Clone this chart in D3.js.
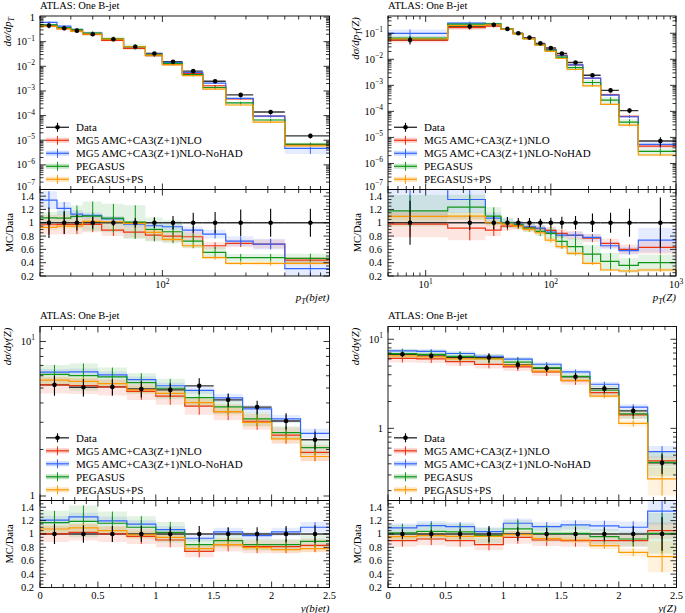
<!DOCTYPE html>
<html>
<head>
<meta charset="utf-8">
<script src="https://cdn.jsdelivr.net/npm/d3@7"></script>
<style>
body { margin: 0; background: #fff; }
svg text { font-family: "Liberation Serif", "DejaVu Serif", serif; fill: #000; }
</style>
</head>
<body>
<script>
// series names and colours (legend order)
var mcNames = ["MG5 AMC+CA3(Z+1)NLO", "MG5 AMC+CA3(Z+1)NLO-NoHAD", "PEGASUS", "PEGASUS+PS"];
var mcColors = ["#ee3311", "#3366ff", "#109618", "#ff9900"];

// pT(bjet)
var ptbEdges = [20, 25, 30, 35, 45, 60, 80, 100, 130, 170, 230, 330, 500, 900];
var ptbData = [0.45, 0.35, 0.28, 0.20, 0.125, 0.0625, 0.033, 0.0153, 0.00635, 0.00248, 0.00069, 1.39e-4, 1.5e-5];
var ptbDataErr = [0.23, 0.17, 0.12, 0.09, 0.05, 0.07, 0.08, 0.1, 0.15, 0.16, 0.2, 0.21, 0.21];
var ptbMg = [0.97, 0.975, 0.975, 0.975, 0.89, 0.86, 0.815, 0.80, 0.79, 0.655, 0.69, 0.68, 0.44];
var ptbNoHad = [1.34, 1.215, 1.13, 1.11, 1.06, 0.98, 0.955, 0.94, 0.89, 0.83, 0.725, 0.68, 0.31];
var ptbPeg = [1.075, 1.07, 1.095, 1.1, 1.07, 1.01, 0.9, 0.865, 0.725, 0.555, 0.475, 0.475, 0.465];
var ptbPegPs = [0.93, 0.95, 0.95, 1.02, 1.015, 0.99, 0.855, 0.75, 0.655, 0.475, 0.39, 0.39, 0.39];
var ptbMgBand = [0.15, 0.15, 0.15, 0.12, 0.1, 0.1, 0.1, 0.1, 0.1, 0.08, 0.08, 0.1, 0.1];
var ptbNoHadBand = [0.1, 0.08, 0.05, 0.04, 0.04, 0.04, 0.04, 0.05, 0.06, 0.08, 0.1, 0.12, 0.4];
var ptbPegBand = [0.08, 0.1, 0.15, 0.2, 0.2, 0.25, 0.2, 0.2, 0.15, 0.15, 0.12, 0.12, 0.15];
var ptbPegPsBand = [0.04, 0.04, 0.04, 0.04, 0.04, 0.04, 0.04, 0.05, 0.05, 0.06, 0.06, 0.08, 0.08];

// pT(Z)
var ptzEdges = [0, 15, 30, 40, 50, 60, 75, 90, 110, 135, 180, 250, 350, 500, 1000];
var ptzData = [0.055, 0.18, 0.21, 0.147, 0.1, 0.068, 0.041, 0.027, 0.0168, 0.0075, 0.00243, 6.4e-4, 1.07e-4, 7.3e-6];
var ptzDataErr = [0.33, 0.11, 0.1, 0.085, 0.07, 0.07, 0.06, 0.075, 0.09, 0.1, 0.14, 0.15, 0.21, 0.38];
var ptzMg = [0.98, 0.92, 0.89, 0.95, 0.96, 0.93, 0.91, 0.885, 0.84, 0.81, 0.77, 0.69, 0.6, 0.63];
var ptzNoHad = [1.8, 1.35, 1.07, 1.0, 0.98, 0.94, 0.92, 0.86, 0.815, 0.815, 0.78, 0.655, 0.58, 0.74];
var ptzPeg = [1.18, 1.235, 1.1, 1.0, 0.97, 0.92, 0.87, 0.84, 0.72, 0.64, 0.53, 0.42, 0.36, 0.40];
var ptzPegPs = [1.095, 1.1, 1.0, 0.98, 0.95, 0.9, 0.85, 0.74, 0.64, 0.54, 0.39, 0.29, 0.275, 0.29];
var ptzMgBand = [0.2, 0.2, 0.1, 0.07, 0.06, 0.06, 0.06, 0.06, 0.07, 0.08, 0.08, 0.1, 0.12, 0.15];
var ptzNoHadBand = [0.4, 0.15, 0.08, 0.06, 0.05, 0.05, 0.05, 0.05, 0.05, 0.06, 0.06, 0.08, 0.1, 0.25];
var ptzPegBand = [0.2, 0.15, 0.12, 0.08, 0.06, 0.06, 0.08, 0.1, 0.15, 0.2, 0.25, 0.3, 0.3, 0.3];
var ptzPegPsBand = [0.05, 0.05, 0.05, 0.04, 0.04, 0.04, 0.04, 0.05, 0.05, 0.05, 0.06, 0.06, 0.08, 0.1];

// y(bjet)
var ybEdges = [0, 0.25, 0.5, 0.75, 1, 1.25, 1.5, 1.75, 2, 2.25, 2.5];
var ybData = [5.24, 5.06, 5.08, 4.93, 4.86, 5.16, 4.19, 3.76, 3.06, 2.31];
var ybDataErr = [0.15, 0.13, 0.12, 0.12, 0.1, 0.12, 0.1, 0.1, 0.12, 0.13];
var ybMg = [1.0, 1.025, 1.0, 0.965, 0.91, 0.74, 0.84, 0.81, 0.81, 0.83];
var ybNoHad = [1.207, 1.256, 1.197, 1.148, 1.064, 0.936, 1.03, 0.975, 1.03, 1.1];
var ybPeg = [1.17, 1.187, 1.16, 1.1, 1.025, 0.84, 0.9, 0.84, 0.84, 0.89];
var ybPegPs = [1.074, 1.09, 1.05, 0.985, 0.95, 0.78, 0.84, 0.795, 0.765, 0.78];
var ybMgBand = [0.12, 0.12, 0.12, 0.12, 0.12, 0.12, 0.12, 0.12, 0.12, 0.12];
var ybNoHadBand = [0.05, 0.05, 0.05, 0.05, 0.05, 0.05, 0.06, 0.06, 0.06, 0.07];
var ybPegBand = [0.15, 0.2, 0.15, 0.15, 0.15, 0.12, 0.1, 0.1, 0.1, 0.1];
var ybPegPsBand = [0.06, 0.06, 0.06, 0.06, 0.06, 0.06, 0.06, 0.06, 0.06, 0.07];

// y(Z)
var yzEdges = [0, 0.25, 0.5, 0.75, 1, 1.25, 1.5, 1.75, 2, 2.25, 2.5];
var yzData = [6.78, 6.5, 6.23, 6.23, 5.15, 4.72, 3.8, 2.79, 1.57, 0.41];
var yzDataErr = [0.07, 0.06, 0.07, 0.12, 0.1, 0.09, 0.1, 0.1, 0.12, 0.25];
var yzMg = [0.9, 0.925, 0.9, 0.84, 0.95, 0.91, 0.9, 0.9, 0.9, 1.05];
var yzNoHad = [1.09, 1.125, 1.11, 1.035, 1.16, 1.11, 1.135, 1.12, 1.1, 1.34];
var yzPeg = [1.015, 1.04, 1.03, 0.975, 1.075, 1.01, 1.01, 0.96, 0.925, 1.01];
var yzPegPs = [0.96, 0.975, 0.965, 0.965, 0.99, 0.93, 0.91, 0.825, 0.725, 0.66];
var yzMgBand = [0.1, 0.1, 0.1, 0.1, 0.1, 0.1, 0.1, 0.1, 0.1, 0.12];
var yzNoHadBand = [0.06, 0.06, 0.06, 0.06, 0.06, 0.06, 0.06, 0.07, 0.08, 0.15];
var yzPegBand = [0.12, 0.12, 0.12, 0.12, 0.12, 0.12, 0.12, 0.12, 0.12, 0.3];
var yzPegPsBand = [0.05, 0.05, 0.05, 0.05, 0.05, 0.05, 0.05, 0.06, 0.08, 0.35];

var ratioDomain = [0.2, 1.5];
var ratioTickLabels = ["0.2", "0.4", "0.6", "0.8", "1", "1.2", "1.4"];

var panels = [
	{left: 40, right: 329.5, top: 16, mid: 189.5, bottom: 276, xType: "log", xDomain: [20, 900], yDomain: [1e-7, 1.1],
	 edges: ptbEdges, data: ptbData, dataErr: ptbDataErr,
	 ratios: [ptbMg, ptbNoHad, ptbPeg, ptbPegPs], bands: [ptbMgBand, ptbNoHadBand, ptbPegBand, ptbPegPsBand],
	 yLabel: [["d\u03c3/dp"], ["T", "sub"]], xLabel: [["p"], ["T", "sub"], ["(bjet)"]]},
	{left: 388, right: 676, top: 16, mid: 189.5, bottom: 276, xType: "log", xDomain: [5, 1000], yDomain: [1e-7, 0.46],
	 edges: ptzEdges, data: ptzData, dataErr: ptzDataErr,
	 ratios: [ptzMg, ptzNoHad, ptzPeg, ptzPegPs], bands: [ptzMgBand, ptzNoHadBand, ptzPegBand, ptzPegPsBand],
	 yLabel: [["d\u03c3/dp"], ["T", "sub"], ["(Z)"]], xLabel: [["p"], ["T", "sub"], ["(Z)"]]},
	{left: 40, right: 329.5, top: 326.5, mid: 500.5, bottom: 587.5, xType: "lin", xDomain: [0, 2.5], yDomain: [0.935, 12.5],
	 edges: ybEdges, data: ybData, dataErr: ybDataErr,
	 ratios: [ybMg, ybNoHad, ybPeg, ybPegPs], bands: [ybMgBand, ybNoHadBand, ybPegBand, ybPegPsBand],
	 yLabel: [["d\u03c3/dy(Z)"]], xLabel: [["y(bjet)"]]},
	{left: 388, right: 676.5, top: 326.5, mid: 500.5, bottom: 587.5, xType: "lin", xDomain: [0, 2.5], yDomain: [0.155, 13.9],
	 edges: yzEdges, data: yzData, dataErr: yzDataErr,
	 ratios: [yzMg, yzNoHad, yzPeg, yzPegPs], bands: [yzMgBand, yzNoHadBand, yzPegBand, yzPegPsBand],
	 yLabel: [["d\u03c3/dy(Z)"]], xLabel: [["y(Z)"]]}
];

var svg = d3.select("body").append("svg")
	.attr("width", 685)
	.attr("height", 613);

function logTicks(dom) {
	var out = [];
	var k0 = Math.floor(Math.log10(dom[0])), k1 = Math.ceil(Math.log10(dom[1]));
	for (var k = k0; k <= k1; k++) {
		for (var m = 1; m <= 9; m++) {
			var v = m * Math.pow(10, k);
			if (v >= dom[0] * 0.999 && v <= dom[1] * 1.001) out.push({v: v, major: m === 1, e: k});
		}
	}
	return out;
}

function linTicks(lo, hi, step, every) {
	var out = [];
	var n = Math.round((hi - lo) / step);
	for (var i = 0; i <= n; i++) out.push({v: lo + i * step, major: i % every === 0, i: i});
	return out;
}

// math-ish label with subscripts
function richText(t, parts, size) {
	parts.forEach(function(part) {
		var sp = t.append("tspan").text(part[0]);
		if (part[1] === "sub") sp.attr("dy", 3).attr("font-size", size * 0.72);
		else if (t.node().childNodes.length > 1) sp.attr("dy", -3);
	});
}

function powLabel(t, e) {
	if (e === 0) { t.text("1"); return; }
	t.text("10");
	t.append("tspan").attr("dy", -4.5).attr("font-size", 7.5).text(e < 0 ? "\u2212" + (-e) : e);
}

panels.forEach(function(p, pi) {
	var g = svg.append("g");
	var x = (p.xType === "log" ? d3.scaleLog() : d3.scaleLinear()).domain(p.xDomain).range([p.left, p.right]);
	var y = d3.scaleLog().domain(p.yDomain).range([p.mid, p.top]);
	var yr = d3.scaleLinear().domain(ratioDomain).range([p.bottom, p.mid]);
	var xs = function(v) { return x(p.xType === "log" ? Math.max(v, p.xDomain[0] / 2) : v); };

	var bins = p.data.map(function(d, i) {
		return {lo: p.edges[i], hi: p.edges[i + 1], c: (p.edges[i] + p.edges[i + 1]) / 2, d: d, e: p.dataErr[i]};
	});

	var defs = g.append("defs");
	defs.append("clipPath").attr("id", "cm" + pi).append("rect")
		.attr("x", p.left).attr("y", p.top).attr("width", p.right - p.left).attr("height", p.mid - p.top);
	defs.append("clipPath").attr("id", "cr" + pi).append("rect")
		.attr("x", p.left).attr("y", p.mid).attr("width", p.right - p.left).attr("height", p.bottom - p.mid);

	var mainG = g.append("g").attr("clip-path", "url(#cm" + pi + ")");
	var ratG = g.append("g").attr("clip-path", "url(#cr" + pi + ")");

	// the two sub plots: main (MC = data * MC/Data) and ratio
	var layers = [
		{g: mainG, sy: y, val: function(s, i) { return bins[i].d * p.ratios[s][i]; }, ref: function(i) { return bins[i].d; }},
		{g: ratG, sy: yr, val: function(s, i) { return p.ratios[s][i]; }, ref: function() { return 1; }}
	];

	layers.forEach(function(L) {
		// bands
		p.ratios.forEach(function(r, s) {
			var pts = [];
			bins.forEach(function(b, i) {
				var v = L.val(s, i), e = p.bands[s][i];
				pts.push([b.lo, v * (1 - e), v * (1 + e)]);
				pts.push([b.hi, v * (1 - e), v * (1 + e)]);
			});
			L.g.append("path")
				.attr("d", d3.area().x(function(d) { return xs(d[0]); })
					.y0(function(d) { return L.sy(d[1]); }).y1(function(d) { return L.sy(d[2]); })(pts))
				.attr("fill", mcColors[s])
				.attr("fill-opacity", 0.12);
		});
		// data horizontal bars
		bins.forEach(function(b, i) {
			L.g.append("line")
				.attr("x1", xs(b.lo)).attr("x2", xs(b.hi))
				.attr("y1", L.sy(L.ref(i))).attr("y2", L.sy(L.ref(i)))
				.attr("stroke", "#333").attr("stroke-width", 1.4);
		});
		// MC step lines and error bars
		p.ratios.forEach(function(r, s) {
			var pts = [];
			bins.forEach(function(b, i) {
				pts.push([b.lo, L.val(s, i)]);
				pts.push([b.hi, L.val(s, i)]);
			});
			L.g.append("path")
				.attr("d", d3.line().x(function(d) { return xs(d[0]); }).y(function(d) { return L.sy(d[1]); })(pts))
				.attr("fill", "none")
				.attr("stroke", mcColors[s])
				.attr("stroke-width", 1.2);
			L.g.selectAll(null)
				.data(bins)
				.enter()
				.append("line")
				.attr("x1", function(b) { return xs(b.c); })
				.attr("x2", function(b) { return xs(b.c); })
				.attr("y1", function(b, i) { return L.sy(L.val(s, i) * (1 - p.bands[s][i])); })
				.attr("y2", function(b, i) { return L.sy(L.val(s, i) * (1 + p.bands[s][i])); })
				.attr("stroke", mcColors[s])
				.attr("stroke-width", 1);
		});
		// data error bars and points
		L.g.selectAll(null)
			.data(bins)
			.enter()
			.append("line")
			.attr("x1", function(b) { return xs(b.c); })
			.attr("x2", function(b) { return xs(b.c); })
			.attr("y1", function(b, i) { return L.sy(L.ref(i) * (1 - b.e)); })
			.attr("y2", function(b, i) { return L.sy(L.ref(i) * (1 + b.e)); })
			.attr("stroke", "#000")
			.attr("stroke-width", 1.1);
		L.g.selectAll(null)
			.data(bins)
			.enter()
			.append("circle")
			.attr("cx", function(b) { return xs(b.c); })
			.attr("cy", function(b, i) { return L.sy(L.ref(i)); })
			.attr("r", 2.3)
			.attr("fill", "#000");
	});

	// ticks (inside, all four sides)
	var tk = g.append("g").attr("stroke", "#000").attr("stroke-width", 0.8);
	var xTicks = p.xType === "log" ? logTicks(p.xDomain) : linTicks(0, 2.5, 0.1, 5);
	[[p.top, p.mid], [p.mid, p.bottom]].forEach(function(box) {
		xTicks.forEach(function(t) {
			var px = x(t.v), len = t.major ? 6 : 3.5;
			tk.append("line").attr("x1", px).attr("x2", px).attr("y1", box[1]).attr("y2", box[1] - len);
			tk.append("line").attr("x1", px).attr("x2", px).attr("y1", box[0]).attr("y2", box[0] + len);
		});
	});
	var yTicks = logTicks(p.yDomain);
	yTicks.forEach(function(t) {
		var py = y(t.v), len = t.major ? 6 : 3.5;
		tk.append("line").attr("x1", p.left).attr("x2", p.left + len).attr("y1", py).attr("y2", py);
		tk.append("line").attr("x1", p.right).attr("x2", p.right - len).attr("y1", py).attr("y2", py);
	});
	linTicks(0.2, 1.5, 0.05, 4).forEach(function(t) {
		var py = yr(t.v), len = t.major ? 6 : 3.5;
		if (t.v > 1.49) return;
		tk.append("line").attr("x1", p.left).attr("x2", p.left + len).attr("y1", py).attr("y2", py);
		tk.append("line").attr("x1", p.right).attr("x2", p.right - len).attr("y1", py).attr("y2", py);
	});

	// frames
	g.append("rect").attr("x", p.left).attr("y", p.top).attr("width", p.right - p.left).attr("height", p.mid - p.top)
		.attr("fill", "none").attr("stroke", "#000").attr("stroke-width", 0.9);
	g.append("rect").attr("x", p.left).attr("y", p.mid).attr("width", p.right - p.left).attr("height", p.bottom - p.mid)
		.attr("fill", "none").attr("stroke", "#000").attr("stroke-width", 0.9);

	// tick labels
	yTicks.filter(function(t) { return t.major; }).forEach(function(t) {
		var py = y(t.v);
		// lowest label sits on the divider: lift it clear of the ratio labels
		var shift = (p.mid - py < 3) ? 0 : 3.5;
		var lab = g.append("text").attr("x", p.left - 5).attr("y", py + shift)
			.attr("text-anchor", "end").attr("font-size", 10.5);
		powLabel(lab, t.e);
	});
	linTicks(0.2, 1.4, 0.2, 1).forEach(function(t, i) {
		g.append("text").attr("x", p.left - 6).attr("y", yr(t.v) + 3.5)
			.attr("text-anchor", "end").attr("font-size", 10.5)
			.text(ratioTickLabels[i]);
	});
	if (p.xType === "log") {
		xTicks.filter(function(t) { return t.major; }).forEach(function(t) {
			var lab = g.append("text").attr("x", x(t.v)).attr("y", p.bottom + 12)
				.attr("text-anchor", "middle").attr("font-size", 10.5);
			powLabel(lab, t.e);
		});
	} else {
		linTicks(0, 2.5, 0.5, 1).forEach(function(t) {
			g.append("text").attr("x", x(t.v)).attr("y", p.bottom + 11.5)
				.attr("text-anchor", "middle").attr("font-size", 10.5)
				.text(d3.format("~g")(t.v));
		});
	}

	// titles
	g.append("text").attr("x", p.left).attr("y", p.top - 7.5).attr("font-size", 10.5).text("ATLAS: One B-jet");
	var yl = g.append("text")
		.attr("transform", "translate(" + (p.left - 29) + "," + (p.top + 1) + ") rotate(-90)")
		.attr("text-anchor", "end").attr("font-size", 11).attr("font-style", "italic");
	richText(yl, p.yLabel, 11);
	g.append("text")
		.attr("transform", "translate(" + (p.left - 27.5) + "," + ((p.mid + p.bottom) / 2) + ") rotate(-90)")
		.attr("text-anchor", "middle").attr("font-size", 10.5)
		.text("MC/Data");
	var xl = g.append("text").attr("x", p.right).attr("y", p.bottom + 24.5)
		.attr("text-anchor", "end").attr("font-size", 11).attr("font-style", "italic");
	richText(xl, p.xLabel, 11);

	// legend
	var leg = g.append("g");
	var ly = p.top + 111.3, lx0 = p.left + 6, lx1 = p.left + 29;
	leg.append("line").attr("x1", lx0).attr("x2", lx1).attr("y1", ly).attr("y2", ly)
		.attr("stroke", "#333").attr("stroke-width", 1.4);
	leg.append("line").attr("x1", (lx0 + lx1) / 2).attr("x2", (lx0 + lx1) / 2).attr("y1", ly - 4.5).attr("y2", ly + 4.5)
		.attr("stroke", "#000").attr("stroke-width", 1.1);
	leg.append("circle").attr("cx", (lx0 + lx1) / 2).attr("cy", ly).attr("r", 2.3).attr("fill", "#000");
	leg.append("text").attr("x", p.left + 36).attr("y", ly + 3.8).attr("font-size", 11).text("Data");
	mcNames.forEach(function(name, s) {
		var yy = ly + 13 * (s + 1);
		leg.append("rect").attr("x", lx0).attr("y", yy - 2.5).attr("width", lx1 - lx0).attr("height", 5)
			.attr("fill", mcColors[s]).attr("fill-opacity", 0.25);
		leg.append("line").attr("x1", lx0).attr("x2", lx1).attr("y1", yy).attr("y2", yy)
			.attr("stroke", mcColors[s]).attr("stroke-width", 1.2);
		leg.append("line").attr("x1", (lx0 + lx1) / 2).attr("x2", (lx0 + lx1) / 2).attr("y1", yy - 4.5).attr("y2", yy + 4.5)
			.attr("stroke", mcColors[s]).attr("stroke-width", 1);
		leg.append("text").attr("x", p.left + 36).attr("y", yy + 3.8).attr("font-size", 11).text(name);
	});
});
</script>
</body>
</html>
